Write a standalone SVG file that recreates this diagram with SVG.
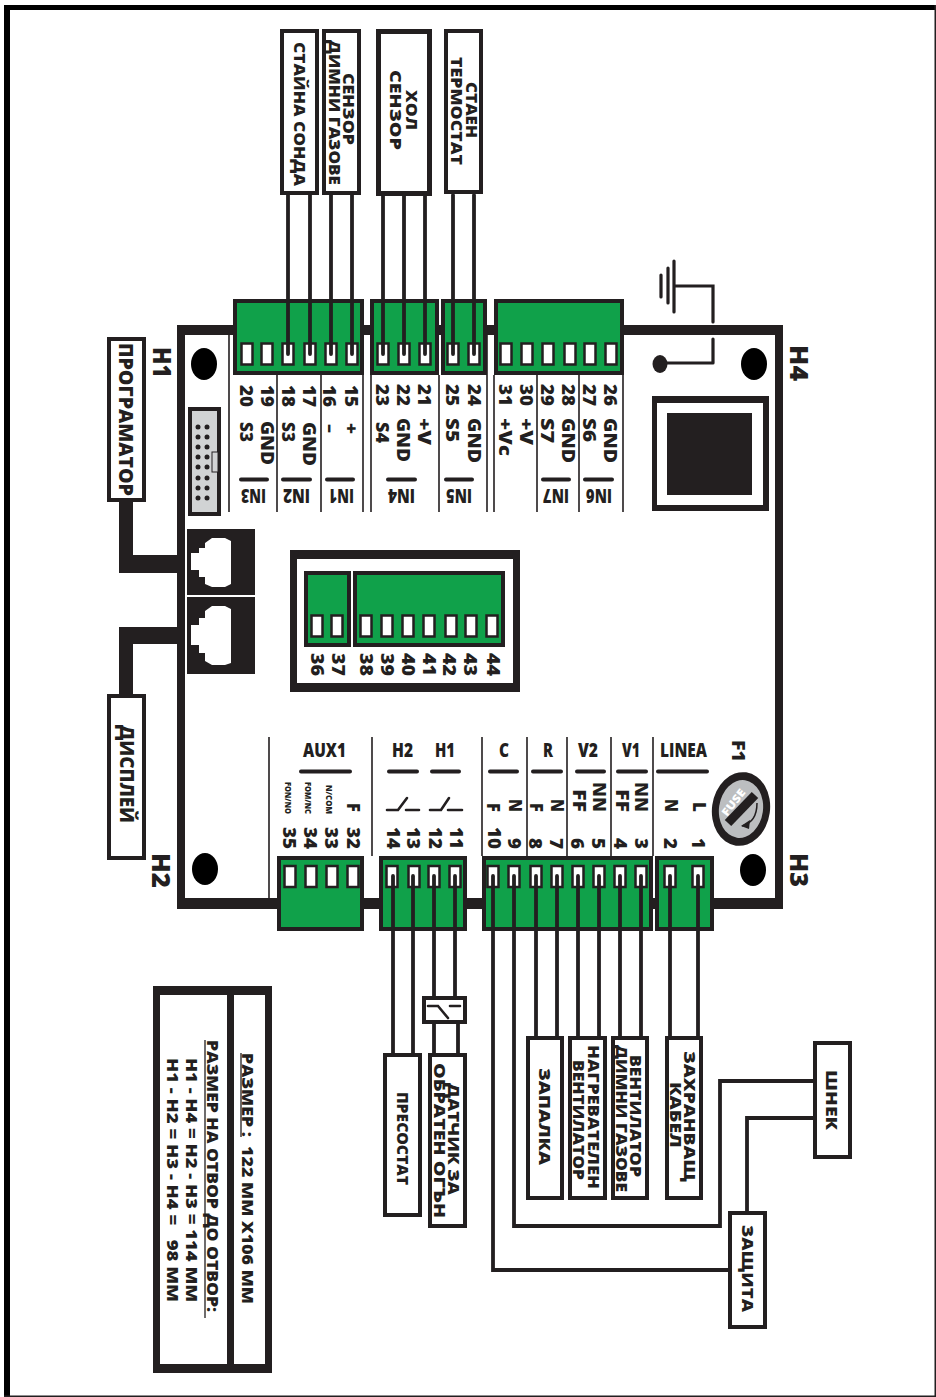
<svg xmlns="http://www.w3.org/2000/svg" width="936" height="1397" viewBox="0 0 936 1397">
<style>
text{font-family:"Open Sans","Liberation Sans",sans-serif;font-weight:800;fill:#231f20}
.l{font-size:17px}.n{font-size:17.500px}.c{font-size:20px}.h{font-size:25px}.s{font-size:9px}.b{font-size:16.500px}
.box{fill:#fff;stroke:#231f20;stroke-width:4}
.gr{fill:#10a14a;stroke:#231f20;stroke-width:4}
.pin{fill:#fff;stroke:#231f20;stroke-width:2.5}
.w{fill:none;stroke:#231f20;stroke-width:3.8;stroke-linecap:round;stroke-linejoin:miter}
.v{fill:none;stroke:#231f20;stroke-width:1.6}
.bar{fill:none;stroke:#231f20;stroke-width:4;stroke-linecap:round}
.sw{fill:none;stroke:#231f20;stroke-width:2.6;stroke-linecap:round}
.k{fill:#231f20}
.hole{fill:#000}
</style>
<defs><rect id="pin" class="pin" x="-5.5" y="0" width="11" height="21"/></defs>
<rect width="936" height="1397" fill="#fff"/>
<g id="frame">
<rect x="4" y="5" width="6" height="1392" fill="#000"/>
<rect x="4" y="5" width="932" height="5" fill="#000"/>
<rect x="934.5" y="5" width="1.5" height="1392" fill="#231f20"/>
<rect x="4" y="1395.5" width="932" height="1.5" fill="#231f20"/>
</g>
<g id="board">
<path class="k" fill-rule="evenodd" d="M177 325H783V909H177ZM185 335V898H775V335Z"/>
<path class="v" d="M229 335V512M277 375V512M321 375V512M363 375V512M371 375V512M439 375V512M487 335V512M494 375V512M537 375V512M579 375V512M623 375V512"/>
<path class="v" d="M269 737V898M372 737V856M482 737V856M527 737V856M567 737V856M611 737V856M653 737V856"/>
<ellipse class="hole" cx="204" cy="364" rx="13" ry="16"/>
<ellipse class="hole" cx="754" cy="364" rx="13" ry="16"/>
<ellipse class="hole" cx="205" cy="869" rx="13" ry="16"/>
<ellipse class="hole" cx="753" cy="870" rx="13" ry="16"/>
</g>
<g id="h-labels">
<text class="h" transform="translate(153 347) rotate(90)" textLength="31" lengthAdjust="spacingAndGlyphs">H1</text>
<text class="h" transform="translate(790 345) rotate(90)" textLength="36" lengthAdjust="spacingAndGlyphs">H4</text>
<text class="h" transform="translate(152 853) rotate(90)" textLength="35" lengthAdjust="spacingAndGlyphs">H2</text>
<text class="h" transform="translate(790 853) rotate(90)" textLength="34" lengthAdjust="spacingAndGlyphs">H3</text>
</g>
<g id="terminal-top">
<rect class="gr" x="235" y="301" width="127" height="72"/>
<rect class="gr" x="372" y="301" width="65" height="72"/>
<rect class="gr" x="443" y="301" width="42" height="72"/>
<rect class="gr" x="496" y="301" width="126" height="72"/>
<use href="#pin" x="247" y="343.500"/><use href="#pin" x="267" y="343.500"/><use href="#pin" x="288" y="343.500"/><use href="#pin" x="310" y="343.500"/><use href="#pin" x="331" y="343.500"/><use href="#pin" x="352" y="343.500"/><use href="#pin" x="383" y="343.500"/><use href="#pin" x="404" y="343.500"/><use href="#pin" x="425" y="343.500"/><use href="#pin" x="453" y="343.500"/><use href="#pin" x="474" y="343.500"/><use href="#pin" x="506" y="343.500"/><use href="#pin" x="527" y="343.500"/><use href="#pin" x="548" y="343.500"/><use href="#pin" x="570" y="343.500"/><use href="#pin" x="590" y="343.500"/><use href="#pin" x="611" y="343.500"/>
</g>
<g id="labels-top">
<text class="n" transform="translate(240 385) rotate(90)" textLength="22" lengthAdjust="spacingAndGlyphs">20</text>
<text class="n" transform="translate(261 385) rotate(90)" textLength="22" lengthAdjust="spacingAndGlyphs">19</text>
<text class="n" transform="translate(282 385) rotate(90)" textLength="22" lengthAdjust="spacingAndGlyphs">18</text>
<text class="n" transform="translate(303 385) rotate(90)" textLength="22" lengthAdjust="spacingAndGlyphs">17</text>
<text class="n" transform="translate(323 385) rotate(90)" textLength="22" lengthAdjust="spacingAndGlyphs">16</text>
<text class="n" transform="translate(345 385) rotate(90)" textLength="22" lengthAdjust="spacingAndGlyphs">15</text>
<text class="n" transform="translate(376 384) rotate(90)" textLength="22" lengthAdjust="spacingAndGlyphs">23</text>
<text class="n" transform="translate(397 384) rotate(90)" textLength="22" lengthAdjust="spacingAndGlyphs">22</text>
<text class="n" transform="translate(418 384) rotate(90)" textLength="22" lengthAdjust="spacingAndGlyphs">21</text>
<text class="n" transform="translate(446 384) rotate(90)" textLength="22" lengthAdjust="spacingAndGlyphs">25</text>
<text class="n" transform="translate(468 384) rotate(90)" textLength="22" lengthAdjust="spacingAndGlyphs">24</text>
<text class="n" transform="translate(499 384) rotate(90)" textLength="22" lengthAdjust="spacingAndGlyphs">31</text>
<text class="n" transform="translate(520 384) rotate(90)" textLength="22" lengthAdjust="spacingAndGlyphs">30</text>
<text class="n" transform="translate(541 384) rotate(90)" textLength="22" lengthAdjust="spacingAndGlyphs">29</text>
<text class="n" transform="translate(562 384) rotate(90)" textLength="22" lengthAdjust="spacingAndGlyphs">28</text>
<text class="n" transform="translate(583 384) rotate(90)" textLength="22" lengthAdjust="spacingAndGlyphs">27</text>
<text class="n" transform="translate(604 384) rotate(90)" textLength="22" lengthAdjust="spacingAndGlyphs">26</text>
<text class="l" transform="translate(240 422) rotate(90)" textLength="20" lengthAdjust="spacingAndGlyphs">S3</text>
<text class="l" transform="translate(261 421) rotate(90)" textLength="44" lengthAdjust="spacingAndGlyphs">GND</text>
<text class="l" transform="translate(282 422) rotate(90)" textLength="20" lengthAdjust="spacingAndGlyphs">S3</text>
<text class="l" transform="translate(303 422) rotate(90)" textLength="44" lengthAdjust="spacingAndGlyphs">GND</text>
<text class="l" transform="translate(324 424) rotate(90)" textLength="9" lengthAdjust="spacingAndGlyphs">–</text>
<text class="l" transform="translate(345 423) rotate(90)" textLength="11" lengthAdjust="spacingAndGlyphs">+</text>
<text class="l" transform="translate(376 422) rotate(90)" textLength="21" lengthAdjust="spacingAndGlyphs">S4</text>
<text class="l" transform="translate(397 418) rotate(90)" textLength="44" lengthAdjust="spacingAndGlyphs">GND</text>
<text class="l" transform="translate(418 418) rotate(90)" textLength="27" lengthAdjust="spacingAndGlyphs">+V</text>
<text class="l" transform="translate(446 418) rotate(90)" textLength="24" lengthAdjust="spacingAndGlyphs">S5</text>
<text class="l" transform="translate(468 418) rotate(90)" textLength="45" lengthAdjust="spacingAndGlyphs">GND</text>
<text class="l" transform="translate(499 418) rotate(90)" textLength="38" lengthAdjust="spacingAndGlyphs">+Vc</text>
<text class="l" transform="translate(520 418) rotate(90)" textLength="27" lengthAdjust="spacingAndGlyphs">+V</text>
<text class="l" transform="translate(541 418) rotate(90)" textLength="25" lengthAdjust="spacingAndGlyphs">S7</text>
<text class="l" transform="translate(562 418) rotate(90)" textLength="45" lengthAdjust="spacingAndGlyphs">GND</text>
<text class="l" transform="translate(583 418) rotate(90)" textLength="24" lengthAdjust="spacingAndGlyphs">S6</text>
<text class="l" transform="translate(604 418) rotate(90)" textLength="45" lengthAdjust="spacingAndGlyphs">GND</text>
<path class="bar" d="M241 479.500H267M283 479.500H310M327 479.500H353M388 479.500H415M446 479.500H472M543 479.500H569M585 479.500H612"/>
<text class="c" transform="translate(266 489) rotate(180)" textLength="25" lengthAdjust="spacingAndGlyphs">IN3</text>
<text class="c" transform="translate(310 489) rotate(180)" textLength="27" lengthAdjust="spacingAndGlyphs">IN2</text>
<text class="c" transform="translate(354 489) rotate(180)" textLength="25" lengthAdjust="spacingAndGlyphs">IN1</text>
<text class="c" transform="translate(415 489) rotate(180)" textLength="27" lengthAdjust="spacingAndGlyphs">IN4</text>
<text class="c" transform="translate(472 489) rotate(180)" textLength="26" lengthAdjust="spacingAndGlyphs">IN5</text>
<text class="c" transform="translate(569 489) rotate(180)" textLength="26" lengthAdjust="spacingAndGlyphs">IN7</text>
<text class="c" transform="translate(612 489) rotate(180)" textLength="26" lengthAdjust="spacingAndGlyphs">IN6</text>
</g>
<g id="prog-connector">
<rect x="190" y="409" width="29" height="105" fill="#d1d3d4" stroke="#231f20" stroke-width="4"/>
<rect x="212" y="452" width="6" height="20" fill="#d1d3d4" stroke="#231f20" stroke-width="1"/>
<g class="k"><circle cx="198" cy="427" r="2.500"/><circle cx="207" cy="427" r="2.500"/><circle cx="198" cy="437" r="2.500"/><circle cx="207" cy="437" r="2.500"/><circle cx="198" cy="447" r="2.500"/><circle cx="207" cy="447" r="2.500"/><circle cx="198" cy="457" r="2.500"/><circle cx="207" cy="457" r="2.500"/><circle cx="198" cy="467" r="2.500"/><circle cx="207" cy="467" r="2.500"/><circle cx="198" cy="478" r="2.500"/><circle cx="207" cy="478" r="2.500"/><circle cx="198" cy="488" r="2.500"/><circle cx="207" cy="488" r="2.500"/><circle cx="198" cy="498" r="2.500"/><circle cx="207" cy="498" r="2.500"/></g>
</g>
<g id="rj-jacks">
<rect class="k" x="187" y="529" width="68" height="66"/>
<rect class="k" x="187" y="597" width="68" height="77"/>
<path fill="#fff" d="M191 553H199V548H205V543L212 538H225L231 541V584L225 587H212L205 584V577H199V570H191Z"/>
<path fill="#fff" d="M191 625H199V618H205V611L212 606H225L231 609V663L225 665H212L205 661V653H199V645H191Z"/>
</g>
<g id="transformer">
<path class="k" fill-rule="evenodd" d="M652 396H769V511H652ZM657 403V505H763V403Z"/>
<rect class="k" x="667" y="413" width="85" height="82"/>
<ellipse class="k" cx="660" cy="364" rx="7.500" ry="9"/>
</g>
<g id="aux-panel">
<path class="k" fill-rule="evenodd" d="M290 550H520V692H290ZM297 559V683H513V559Z"/>
<rect class="gr" x="306" y="573" width="43" height="72"/>
<rect class="gr" x="355" y="573" width="148" height="72"/>
<use href="#pin" x="317" y="615.500"/><use href="#pin" x="337" y="615.500"/><use href="#pin" x="366" y="615.500"/><use href="#pin" x="387" y="615.500"/><use href="#pin" x="408" y="615.500"/><use href="#pin" x="429" y="615.500"/><use href="#pin" x="451" y="615.500"/><use href="#pin" x="471" y="615.500"/><use href="#pin" x="492" y="615.500"/>
<text class="n" transform="translate(311 653) rotate(90)" textLength="23" lengthAdjust="spacingAndGlyphs">36</text>
<text class="n" transform="translate(332 653) rotate(90)" textLength="23" lengthAdjust="spacingAndGlyphs">37</text>
<text class="n" transform="translate(360 653) rotate(90)" textLength="23" lengthAdjust="spacingAndGlyphs">38</text>
<text class="n" transform="translate(381 653) rotate(90)" textLength="23" lengthAdjust="spacingAndGlyphs">39</text>
<text class="n" transform="translate(402 653) rotate(90)" textLength="23" lengthAdjust="spacingAndGlyphs">40</text>
<text class="n" transform="translate(423 653) rotate(90)" textLength="23" lengthAdjust="spacingAndGlyphs">41</text>
<text class="n" transform="translate(443 653) rotate(90)" textLength="23" lengthAdjust="spacingAndGlyphs">42</text>
<text class="n" transform="translate(464 653) rotate(90)" textLength="23" lengthAdjust="spacingAndGlyphs">43</text>
<text class="n" transform="translate(487 653) rotate(90)" textLength="23" lengthAdjust="spacingAndGlyphs">44</text>
</g>
<g id="terminal-bottom">
<rect class="gr" x="279" y="858" width="83" height="71"/>
<rect class="gr" x="381" y="858" width="84" height="71"/>
<rect class="gr" x="484" y="858" width="167" height="71"/>
<rect class="gr" x="657" y="858" width="55" height="71"/>
<use href="#pin" x="290" y="866"/><use href="#pin" x="311" y="866"/><use href="#pin" x="332" y="866"/><use href="#pin" x="353" y="866"/><use href="#pin" x="392" y="866"/><use href="#pin" x="414" y="866"/><use href="#pin" x="434" y="866"/><use href="#pin" x="455" y="866"/><use href="#pin" x="493" y="866"/><use href="#pin" x="514" y="866"/><use href="#pin" x="536" y="866"/><use href="#pin" x="557" y="866"/><use href="#pin" x="578" y="866"/><use href="#pin" x="599" y="866"/><use href="#pin" x="620" y="866"/><use href="#pin" x="641" y="866"/><use href="#pin" x="670" y="866"/><use href="#pin" x="698" y="866"/>
</g>
<g id="labels-bottom">
<text class="c" x="303" y="757" textLength="43" lengthAdjust="spacingAndGlyphs">AUX1</text>
<text class="c" x="392" y="757" textLength="21" lengthAdjust="spacingAndGlyphs">H2</text>
<text class="c" x="435" y="757" textLength="20" lengthAdjust="spacingAndGlyphs">H1</text>
<text class="c" x="499" y="757" textLength="10" lengthAdjust="spacingAndGlyphs">C</text>
<text class="c" x="543" y="757" textLength="10" lengthAdjust="spacingAndGlyphs">R</text>
<text class="c" x="578" y="757" textLength="20" lengthAdjust="spacingAndGlyphs">V2</text>
<text class="c" x="622" y="757" textLength="18" lengthAdjust="spacingAndGlyphs">V1</text>
<text class="c" x="660" y="757" textLength="47" lengthAdjust="spacingAndGlyphs">LINEA</text>
<path class="bar" d="M301 771.500H350M389 771.500H417M432 771.500H459M490 771.500H517M533 771.500H561M577 771.500H604M618 771.500H646M658 771.500H707"/>
<text class="s" transform="translate(285 782) rotate(90)" textLength="32" lengthAdjust="spacingAndGlyphs">FON/NO</text>
<text class="s" transform="translate(305 782) rotate(90)" textLength="32" lengthAdjust="spacingAndGlyphs">FOM/NC</text>
<text class="s" transform="translate(326 785) rotate(90)" textLength="29" lengthAdjust="spacingAndGlyphs">N/COM</text>
<text class="l" transform="translate(347 803) rotate(90)" textLength="9" lengthAdjust="spacingAndGlyphs">F</text>
<text class="l" transform="translate(487 803) rotate(90)" textLength="9" lengthAdjust="spacingAndGlyphs">F</text>
<text class="l" transform="translate(509 799) rotate(90)" textLength="13" lengthAdjust="spacingAndGlyphs">N</text>
<text class="l" transform="translate(530 803) rotate(90)" textLength="9" lengthAdjust="spacingAndGlyphs">F</text>
<text class="l" transform="translate(551 799) rotate(90)" textLength="13" lengthAdjust="spacingAndGlyphs">N</text>
<text class="l" transform="translate(573 789) rotate(90)" textLength="23" lengthAdjust="spacingAndGlyphs">FF</text>
<text class="l" transform="translate(593 782) rotate(90)" textLength="30" lengthAdjust="spacingAndGlyphs">NN</text>
<text class="l" transform="translate(616 789) rotate(90)" textLength="23" lengthAdjust="spacingAndGlyphs">FF</text>
<text class="l" transform="translate(635 782) rotate(90)" textLength="30" lengthAdjust="spacingAndGlyphs">NN</text>
<text class="l" transform="translate(665 799) rotate(90)" textLength="13" lengthAdjust="spacingAndGlyphs">N</text>
<text class="l" transform="translate(693 802) rotate(90)" textLength="10" lengthAdjust="spacingAndGlyphs">L</text>
<text class="n" transform="translate(283 827) rotate(90)" textLength="22" lengthAdjust="spacingAndGlyphs">35</text>
<text class="n" transform="translate(304 827) rotate(90)" textLength="22" lengthAdjust="spacingAndGlyphs">34</text>
<text class="n" transform="translate(325 827) rotate(90)" textLength="22" lengthAdjust="spacingAndGlyphs">33</text>
<text class="n" transform="translate(347 827) rotate(90)" textLength="22" lengthAdjust="spacingAndGlyphs">32</text>
<text class="n" transform="translate(387 827) rotate(90)" textLength="22" lengthAdjust="spacingAndGlyphs">14</text>
<text class="n" transform="translate(407 827) rotate(90)" textLength="22" lengthAdjust="spacingAndGlyphs">13</text>
<text class="n" transform="translate(429 827) rotate(90)" textLength="22" lengthAdjust="spacingAndGlyphs">12</text>
<text class="n" transform="translate(450 827) rotate(90)" textLength="22" lengthAdjust="spacingAndGlyphs">11</text>
<text class="n" transform="translate(488 827) rotate(90)" textLength="22" lengthAdjust="spacingAndGlyphs">10</text>
<text class="n" transform="translate(508 838) rotate(90)" textLength="11" lengthAdjust="spacingAndGlyphs">9</text>
<text class="n" transform="translate(529 838) rotate(90)" textLength="11" lengthAdjust="spacingAndGlyphs">8</text>
<text class="n" transform="translate(550 838) rotate(90)" textLength="11" lengthAdjust="spacingAndGlyphs">7</text>
<text class="n" transform="translate(571 838) rotate(90)" textLength="11" lengthAdjust="spacingAndGlyphs">6</text>
<text class="n" transform="translate(592 838) rotate(90)" textLength="11" lengthAdjust="spacingAndGlyphs">5</text>
<text class="n" transform="translate(614 838) rotate(90)" textLength="11" lengthAdjust="spacingAndGlyphs">4</text>
<text class="n" transform="translate(635 838) rotate(90)" textLength="11" lengthAdjust="spacingAndGlyphs">3</text>
<text class="n" transform="translate(664 838) rotate(90)" textLength="11" lengthAdjust="spacingAndGlyphs">2</text>
<text class="n" transform="translate(692 838) rotate(90)" textLength="11" lengthAdjust="spacingAndGlyphs">1</text>
<path class="sw" d="M387 810H398L407 798M406 810H419M430 810H441L449 798M448 810H462"/>
</g>
<g id="fuse">
<text class="l" transform="translate(732 740) rotate(90)" textLength="22" lengthAdjust="spacingAndGlyphs" style="font-size:18px">F1</text>
<ellipse cx="741" cy="809" rx="29" ry="37" fill="#231f20" transform="rotate(8 741 809)"/>
<ellipse cx="741" cy="809" rx="22" ry="29" fill="#bcbec0" transform="rotate(8 741 809)"/>
<path d="M728 823L755 795" fill="none" stroke="#231f20" stroke-width="9"/>
<text transform="translate(727 817) rotate(-52)" textLength="31" lengthAdjust="spacingAndGlyphs" style="font-size:11px;fill:#fff">FUSE</text>
<path d="M757 803Q757 822 742 826" fill="none" stroke="#231f20" stroke-width="1.500"/>
<path d="M741 826L750 820L749 829Z" class="k"/>
</g>
<g id="node-staina"><rect class="box" x="282" y="31" width="35" height="162"/>
<text class="b" transform="translate(294 42) rotate(90)" textLength="144" lengthAdjust="spacingAndGlyphs">СТАЙНА СОНДА</text></g>
<g id="node-senzor-gazove"><rect class="box" x="324" y="31" width="35" height="162"/>
<text class="b" transform="translate(343 73) rotate(90)" textLength="72" lengthAdjust="spacingAndGlyphs">СЕНЗОР</text>
<text class="b" transform="translate(329 40) rotate(90)" textLength="145" lengthAdjust="spacingAndGlyphs">ДИМНИ ГАЗОВЕ</text></g>
<g id="node-hol"><rect class="box" x="378.500" y="31.500" width="51" height="162" style="stroke-width:5"/>
<text class="b" transform="translate(406 90) rotate(90)" textLength="40" lengthAdjust="spacingAndGlyphs">ХОЛ</text>
<text class="b" transform="translate(390 70) rotate(90)" textLength="80" lengthAdjust="spacingAndGlyphs">СЕНЗОР</text></g>
<g id="node-termostat"><rect class="box" x="446" y="31" width="35" height="161"/>
<text class="b" transform="translate(466 82) rotate(90)" textLength="56" lengthAdjust="spacingAndGlyphs">СТАЕН</text>
<text class="b" transform="translate(451 57) rotate(90)" textLength="108" lengthAdjust="spacingAndGlyphs">ТЕРМОСТАТ</text></g>
<g id="node-programator"><rect class="box" x="109" y="339" width="35" height="161"/>
<text class="c" transform="translate(119 343) rotate(90)" textLength="153" lengthAdjust="spacingAndGlyphs">ПРОГРАМАТОР</text></g>
<g id="node-displey"><rect class="box" x="109" y="696" width="35" height="162"/>
<text class="c" transform="translate(120 725) rotate(90)" textLength="98" lengthAdjust="spacingAndGlyphs">ДИСПЛЕЙ</text></g>
<g id="connectors">
<path class="k" d="M119 502H133V555H185V573H119Z"/>
<path class="k" d="M119 694H133V644H185V627H119Z"/>
<path class="w" d="M288 195V354M310 195V354M331 195V354M352 195V354M383 195V354M404 195V354M425 195V354M453 195V354M474 195V354"/>
<path class="w" style="stroke-width:3.200" d="M713 363H660M713 363V339M713 322V286H674M674 261V312M668 268V303M661 275V297"/>
<path class="w" d="M393 876V1053M413 876V1053M434 876V996M455 876V996M434 1024V1053M458 1024V1053"/>
<path class="w" d="M536 876V1036M557 876V1036M578 876V1036M599 876V1036M620 876V1036M641 876V1036M670 876V1036M698 876V1036"/>
<path class="w" d="M493 876V1270H728M514 876V1226H720V1081H813M747 1211V1118H813"/>
</g>
<g id="node-presostat"><rect class="box" x="385" y="1055" width="35" height="160"/>
<text class="b" transform="translate(397 1092) rotate(90)" textLength="93" lengthAdjust="spacingAndGlyphs">ПРЕСОСТАТ</text></g>
<g id="node-switch"><rect class="box" x="424" y="998" width="41" height="24"/>
<path class="sw" d="M428 1006H438L448 1018M450 1006H460"/></g>
<g id="node-datchik"><rect class="box" x="430" y="1055" width="35" height="171"/>
<text class="b" transform="translate(448 1083) rotate(90)" textLength="112" lengthAdjust="spacingAndGlyphs">ДАТЧИК ЗА</text>
<text class="b" transform="translate(434 1063) rotate(90)" textLength="155" lengthAdjust="spacingAndGlyphs">ОБРАТЕН ОГЪН</text></g>
<g id="node-zapalka"><rect class="box" x="528" y="1038" width="34" height="160"/>
<text class="b" transform="translate(539 1068) rotate(90)" textLength="97" lengthAdjust="spacingAndGlyphs">ЗАПАЛКА</text></g>
<g id="node-nagrevatelen"><rect class="box" x="570" y="1038" width="35" height="160"/>
<text class="b" transform="translate(588 1045) rotate(90)" textLength="144" lengthAdjust="spacingAndGlyphs">НАГРЕВАТЕЛЕН</text>
<text class="b" transform="translate(573 1060) rotate(90)" textLength="120" lengthAdjust="spacingAndGlyphs">ВЕНТИЛАТОР</text></g>
<g id="node-ventilator"><rect class="box" x="613" y="1038" width="34" height="160"/>
<text class="b" transform="translate(630 1055) rotate(90)" textLength="122" lengthAdjust="spacingAndGlyphs">ВЕНТИЛАТОР</text>
<text class="b" transform="translate(616 1045) rotate(90)" textLength="147" lengthAdjust="spacingAndGlyphs">ДИМНИ ГАЗОВЕ</text></g>
<g id="node-zahranvasht"><rect class="box" x="667" y="1038" width="34" height="160"/>
<text class="b" transform="translate(684 1051) rotate(90)" textLength="131" lengthAdjust="spacingAndGlyphs">ЗАХРАНВАЩ</text>
<text class="b" transform="translate(670 1082) rotate(90)" textLength="66" lengthAdjust="spacingAndGlyphs">КАБЕЛ</text></g>
<g id="node-shnek"><rect class="box" x="815" y="1043" width="35" height="114"/>
<text class="b" transform="translate(826 1070) rotate(90)" textLength="60" lengthAdjust="spacingAndGlyphs">ШНЕК</text></g>
<g id="node-zashtita"><rect class="box" x="730" y="1213" width="35" height="114"/>
<text class="b" transform="translate(742 1225) rotate(90)" textLength="87" lengthAdjust="spacingAndGlyphs">ЗАЩИТА</text></g>
<g id="legend">
<path class="k" fill-rule="evenodd" d="M153 986H272V1373H153ZM160 995V1364H227V995ZM234 995V1364H265V995Z"/>
<text class="b" transform="translate(242 1053) rotate(90)" textLength="251" lengthAdjust="spacingAndGlyphs" xml:space="preserve">РАЗМЕР :  122 ММ Х106 ММ</text>
<path d="M241 1053V1137M205 1040V1318" stroke="#231f20" stroke-width="1.300" fill="none"/>
<text class="b" transform="translate(207 1040) rotate(90)" textLength="272" lengthAdjust="spacingAndGlyphs">РАЗМЕР НА ОТВОР ДО ОТВОР:</text>
<text class="b" transform="translate(186 1058) rotate(90)" textLength="244" lengthAdjust="spacingAndGlyphs">H1 - H4 = H2 - H3 = 114 ММ</text>
<text class="b" transform="translate(167 1058) rotate(90)" textLength="244" lengthAdjust="spacingAndGlyphs" xml:space="preserve">H1 - H2 = H3 - H4 =   98 ММ</text>
</g>
</svg>
